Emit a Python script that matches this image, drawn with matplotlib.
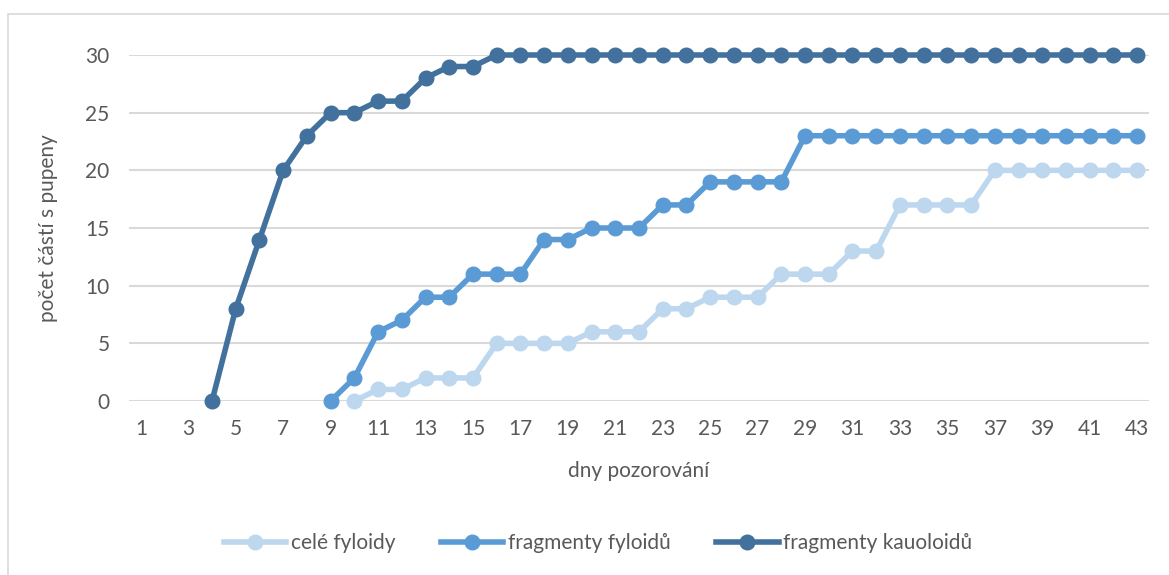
import numpy as np
import matplotlib
matplotlib.use("Agg")
import matplotlib.pyplot as plt
from matplotlib.patches import Rectangle

# ===== data =====
days = np.arange(1, 44)

# fragmenty kauoloidů (from day 4)
kauloid_days = np.arange(4, 44)
kauloid = [0, 8, 14, 20, 23, 25, 25, 26, 26, 28, 29, 29] + [30] * 28

# fragmenty fyloidů (from day 9)
fyloid_days = np.arange(9, 44)
fyloid = [0, 2, 6, 7, 9, 9, 11, 11, 11, 14, 14, 15, 15, 15, 17, 17,
          19, 19, 19, 19] + [23] * 15

# celé fyloidy (from day 10)
cele_days = np.arange(10, 44)
cele = [0, 1, 1, 2, 2, 2, 5, 5, 5, 5, 6, 6, 6, 8, 8, 9, 9, 9, 11, 11, 11,
        13, 13, 17, 17, 17, 17] + [20] * 7

series_names = ["celé fyloidy", "fragmenty fyloidů", "fragmenty kauoloidů"]
colors = ["#BDD7EE", "#5B9BD5", "#41719C"]

# ===== plot =====
plt.rcParams['font.family'] = ['Lato', 'DejaVu Sans']
text_col = "#595959"

fig = plt.figure(figsize=(11.69, 5.75), dpi=100)
ax = fig.add_axes([129 / 1169, 1 - 401 / 575, (1149 - 129) / 1169, (401 - 55) / 575])

# chart border
fig.patches.append(Rectangle((8 / 1169, -0.01), 1.02, 1 - 14 / 575 + 0.01,
                             transform=fig.transFigure, fill=False,
                             edgecolor="#D9D9D9", linewidth=1.2))

for xs, ys, name, c in zip([cele_days, fyloid_days, kauloid_days],
                           [cele, fyloid, kauloid], series_names, colors):
    ax.plot(xs, ys, color=c, linewidth=4, marker="o", markersize=10.5,
            label=name, clip_on=False, zorder=3)

ax.set_xlim(0.5, 43.5)
ax.set_ylim(0, 30)
ax.set_xticks(days[::2])
ax.set_yticks(np.arange(0, 31, 5))
ax.grid(axis="y", color="#D9D9D9", linewidth=1.5)
ax.set_axisbelow(True)
for s in ax.spines.values():
    s.set_visible(False)
ax.tick_params(length=0, labelsize=15, colors=text_col, pad=13)
ax.tick_params(axis="y", pad=14)

ax.set_xlabel("dny pozorování", fontsize=15, color=text_col, labelpad=16)
ax.set_ylabel("počet částí s pupeny", fontsize=15, color=text_col, labelpad=20)

leg = fig.legend(loc="center", bbox_to_anchor=(598 / 1169, 1 - 543 / 575),
                 ncol=3, frameon=False, fontsize=15, handlelength=3,
                 handletextpad=0.2, columnspacing=2.2)
for t in leg.get_texts():
    t.set_color(text_col)

fig.savefig("out.png", dpi=100)
